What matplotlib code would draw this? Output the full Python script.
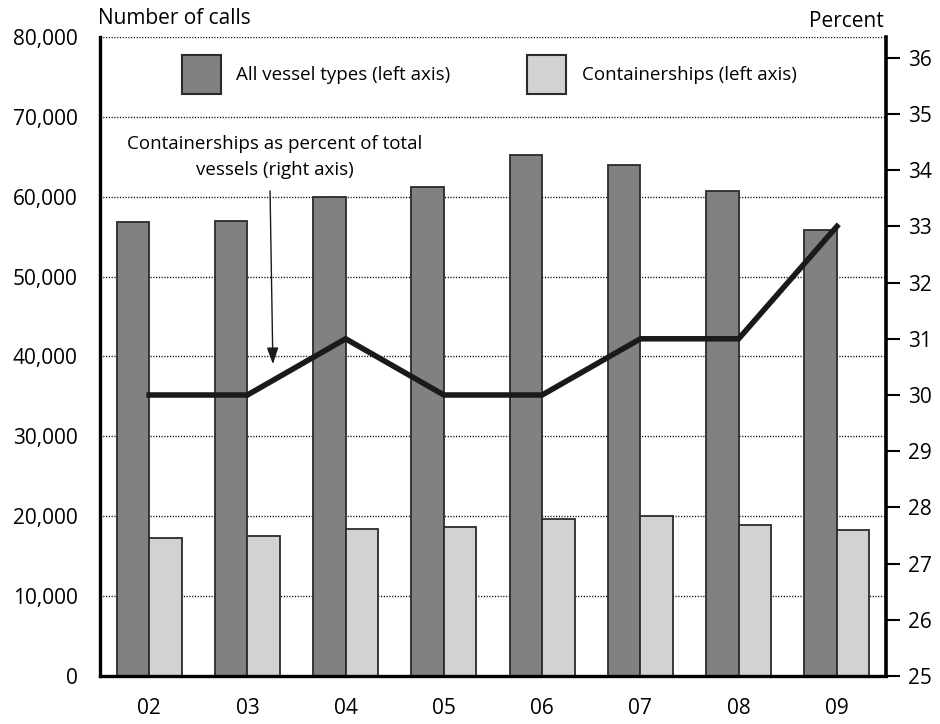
import matplotlib.pyplot as plt
import matplotlib.patches as mpatches
import numpy as np

plt.rcParams['font.family'] = ['Open Sans', 'DejaVu Sans']

# data
years = ['02', '03', '04', '05', '06', '07', '08', '09']
all_vessels = [56800, 57000, 60000, 61200, 65200, 64000, 60700, 55800]
containerships = [17300, 17500, 18400, 18600, 19600, 20000, 18900, 18300]
pct_container = [30, 30, 31, 30, 30, 31, 31, 33]

dark = '#808183'
light = '#d1d2d4'
edge = '#2b2b2b'

fig = plt.figure(figsize=(9.4, 7.24), dpi=100)
ax = fig.add_axes([0.1064, 0.0663, 0.8362, 0.8826])

x = np.arange(len(years))
w = 0.33
ax.bar(x - w / 2, all_vessels, w, color=dark, edgecolor=edge, linewidth=1.3, zorder=2)
ax.bar(x + w / 2, containerships, w, color=light, edgecolor=edge, linewidth=1.3, zorder=2)

ax.set_xlim(-0.5, 7.5)
ax.set_ylim(0, 80000)
ax.set_yticks(np.arange(0, 80001, 10000))
ax.set_yticklabels([f'{v:,}' for v in range(0, 80001, 10000)])
ax.set_xticks(x)
ax.set_xticklabels(years)
ax.tick_params(axis='y', length=0, pad=16, labelsize=15)
ax.tick_params(axis='x', length=0, pad=16, labelsize=15)
ax.yaxis.grid(True, linestyle=(0, (0.8, 1.2)), color='black', linewidth=1.0, zorder=0)
ax.set_axisbelow(True)
for s in ['top', 'right']:
    ax.spines[s].set_visible(False)
ax.spines['left'].set_linewidth(2.4)
ax.spines['bottom'].set_linewidth(2.4)

# right axis with percent
ax2 = ax.twinx()
ax2.plot(x, pct_container, color='#1a1a1a', linewidth=4.0, solid_joinstyle='miter', zorder=3)
ax2.set_ylim(25, 36.37)
ax2.set_yticks(range(25, 37))
ax2.tick_params(axis='y', length=10, width=1.5, pad=6, labelsize=15)
for s in ['top', 'left', 'bottom']:
    ax2.spines[s].set_visible(False)
ax2.spines['right'].set_linewidth(2.6)

fig.text(0.104, 0.975, 'Number of calls', fontsize=15, ha='left', va='center')
fig.text(0.940, 0.970, 'Percent', fontsize=15, ha='right', va='center')

# legend drawn by hand
ax.add_patch(mpatches.Rectangle((0.1043, 0.9108), 0.0496, 0.061, transform=ax.transAxes,
                                facecolor=dark, edgecolor=edge, linewidth=1.5, zorder=4))
ax.text(0.173, 0.9405, 'All vessel types (left axis)', transform=ax.transAxes,
        fontsize=13.5, va='center', ha='left')
ax.add_patch(mpatches.Rectangle((0.5433, 0.9108), 0.0496, 0.061, transform=ax.transAxes,
                                facecolor=light, edgecolor=edge, linewidth=1.5, zorder=4))
ax.text(0.6132, 0.9405, 'Containerships (left axis)', transform=ax.transAxes,
        fontsize=13.5, va='center', ha='left')

ax2.text(0.2226, 0.812, 'Containerships as percent of total\nvessels (right axis)',
         transform=ax.transAxes, fontsize=13.5, ha='center', va='center',
         multialignment='center', linespacing=1.55)
ax2.annotate('', xy=(1.26, 30.5), xytext=(1.23, 33.68),
             arrowprops=dict(arrowstyle='-|>,head_length=1.0,head_width=0.35',
                             color='#1a1a1a', linewidth=1.0))

fig.savefig('out.png', dpi=100)
